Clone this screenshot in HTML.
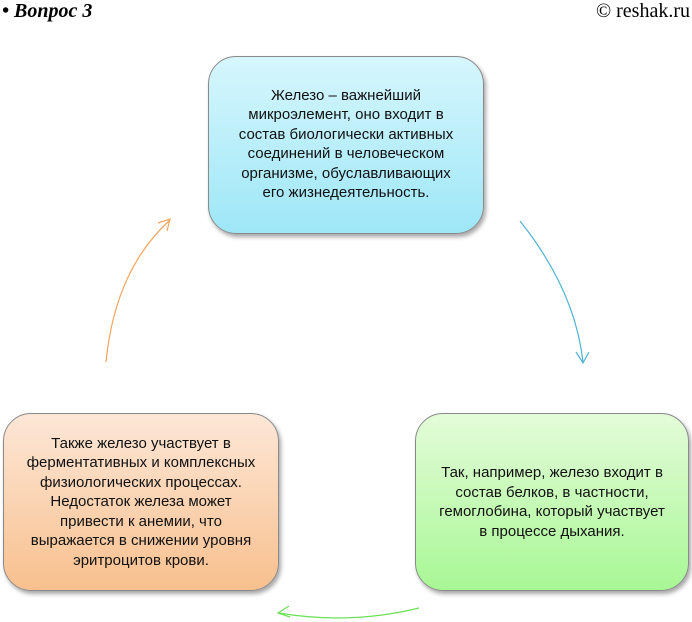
<!DOCTYPE html>
<html><head><meta charset="utf-8"><style>
body{margin:0;width:692px;height:622px;background:#fff;position:relative;overflow:hidden;font-family:"Liberation Sans","DejaVu Sans",sans-serif}
.hd{position:absolute;top:0;font-family:"Liberation Serif",serif;font-size:20px;line-height:22px;color:#000}
.box{position:absolute;border-radius:28px;border:1px solid #8a8a8a;box-shadow:2px 3px 4px rgba(0,0,0,.35);display:flex;align-items:center;justify-content:center;text-align:center;font-size:15px;line-height:19.5px;color:#111;box-sizing:border-box;white-space:nowrap}
</style></head><body>
<div class="hd" style="left:2px;font-weight:bold;font-style:italic">• Вопрос 3</div>
<div class="hd" style="right:2px">© reshak.ru</div>
<div class="box" style="left:208px;top:56px;width:276px;height:178px;background:linear-gradient(#d6f6fd,#9ee7f7)"><div style="margin-top:-2px">Железо – важнейший<br>микроэлемент, оно входит в<br>состав биологически активных<br>соединений в человеческом<br>организме, обуславливающих<br>его жизнедеятельность.</div></div>
<div class="box" style="left:415px;top:413px;width:274px;height:178px;background:linear-gradient(#e4fcd9,#a8f795)"><div>Так, например, железо входит в<br>состав белков, в частности,<br>гемоглобина, который участвует<br>в процессе дыхания.</div></div>
<div class="box" style="left:3px;top:413px;width:276px;height:178px;background:linear-gradient(#fde7d7,#f8c08e)"><div>Также железо участвует в<br>ферментативных и комплексных<br>физиологических процессах.<br>Недостаток железа может<br>привести к анемии, что<br>выражается в снижении уровня<br>эритроцитов крови.</div></div>
<svg width="692" height="622" style="position:absolute;left:0;top:0" fill="none" stroke-width="1.2">
<path d="M520 221 Q575 290 583 362" stroke="#4fb3d4"/>
<path d="M576 352 L583 363 L589 352" stroke="#4fb3d4"/>
<path d="M419 608 Q350 625 279 613" stroke="#6ee058"/>
<path d="M289 606 L278 613 L290 617" stroke="#6ee058"/>
<path d="M106 362 Q115 270 170 220" stroke="#f7a35c"/>
<path d="M158 223 L170 219 L167 231" stroke="#f7a35c"/>
</svg>
</body></html>
